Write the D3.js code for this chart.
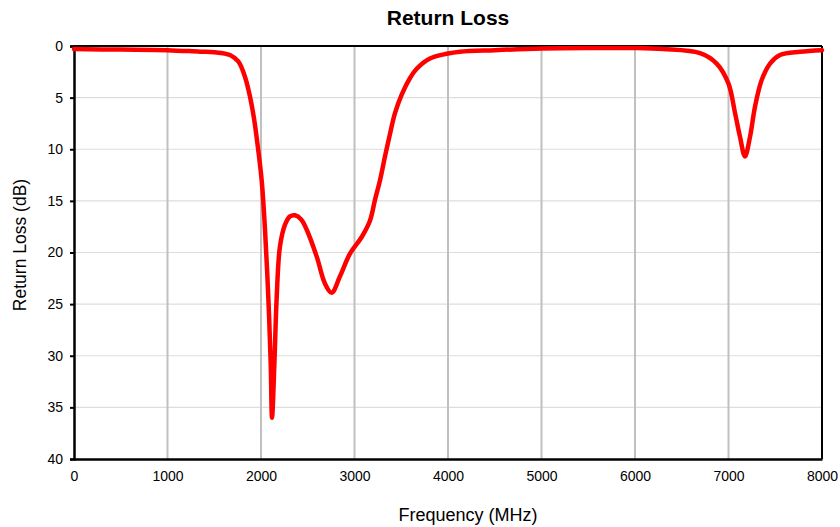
<!DOCTYPE html>
<html><head><meta charset="utf-8">
<script src="https://cdn.jsdelivr.net/npm/d3@7/dist/d3.min.js"></script>
<style>body{margin:0;background:#fff}svg{display:block;font-family:"Liberation Sans",Arial,sans-serif}</style>
</head><body>
<svg id="c" width="840" height="527"></svg>
<script>
const freq = [0,500,1000,1348,1500,1668,1757,1829,1882,1925,1954,2007,2043,2078,2104,2118,2143,2168,2203,2257,2310,2364,2430,2489,2596,2684,2756,2845,2952,3077,3166,3219,3273,3326,3380,3433,3505,3594,3665,3807,3986,4128,4500,5000,5500,6000,6300,6695,6873,6998,7070,7123,7176,7230,7283,7355,7444,7551,7765,8000];
const loss = [0.3,0.35,0.4,0.55,0.6,0.87,1.5,3.0,4.9,7.0,8.9,13.0,17.8,24.3,30.8,36,30.8,24.3,19.4,17.3,16.5,16.4,16.8,17.8,20.4,23,23.9,22.3,20.1,18.5,16.9,14.9,13.0,10.7,8.5,6.5,4.7,3.1,2.2,1.2,0.75,0.55,0.4,0.25,0.2,0.2,0.3,0.7,1.7,3.6,6.5,8.8,10.7,8.8,5.9,3.3,1.7,0.87,0.55,0.4];
const xTicks = [0,1000,2000,3000,4000,5000,6000,7000,8000];
const yTicks = [0,5,10,15,20,25,30,35,40];

const svg = d3.select("#c");
const L=74,R=822,T=46,B=459;
const x = d3.scaleLinear().domain([0,8000]).range([L,R]);
const y = d3.scaleLinear().domain([0,40]).range([T,B]);

svg.append("g").selectAll("line").data(yTicks.slice(1,-1)).join("line")
  .attr("x1",L).attr("x2",R).attr("y1",d=>y(d)).attr("y2",d=>y(d))
  .attr("stroke","#dddddd").attr("stroke-width",1.2);
svg.append("g").selectAll("line").data(xTicks.slice(1,-1)).join("line")
  .attr("y1",T).attr("y2",B).attr("x1",d=>x(d)).attr("x2",d=>x(d))
  .attr("stroke","#c0c0c0").attr("stroke-width",2);

svg.append("line").attr("x1",L).attr("x2",R).attr("y1",T).attr("y2",T).attr("stroke","#000").attr("stroke-width",2);
svg.append("line").attr("x1",R).attr("x2",R).attr("y1",T).attr("y2",B).attr("stroke","#000").attr("stroke-width",2);

const ya = svg.append("g").attr("transform",`translate(${L},0)`)
  .call(d3.axisLeft(y).tickValues(yTicks).tickSize(4).tickPadding(7).tickFormat(d3.format("d")));
ya.select(".domain").attr("stroke","#000").attr("stroke-width",2.5);
ya.selectAll(".tick line").attr("stroke","#000").attr("stroke-width",2);
ya.selectAll("text").attr("font-size",14).attr("fill","#000").attr("font-family","Liberation Sans, Arial, sans-serif");

const xa = svg.append("g").attr("transform",`translate(0,${B})`)
  .call(d3.axisBottom(x).tickValues(xTicks).tickSize(0).tickPadding(12).tickFormat(d3.format("d")));
xa.select(".domain").attr("stroke","#000").attr("stroke-width",2.5);
xa.selectAll("text").attr("font-size",14).attr("fill","#000").attr("font-family","Liberation Sans, Arial, sans-serif");

const line = d3.line().x((d,i)=>x(freq[i])).y(d=>y(d)).curve(d3.curveCatmullRom.alpha(0.5));
svg.append("path").datum(loss).attr("d",line).attr("fill","none")
  .attr("stroke","#ff0000").attr("stroke-width",4.5).attr("stroke-linejoin","round").attr("stroke-linecap","round");

svg.append("text").attr("x",448).attr("y",25).attr("text-anchor","middle")
  .attr("font-size",21).attr("font-weight","bold").text("Return Loss");
svg.append("text").attr("x",468).attr("y",521).attr("text-anchor","middle")
  .attr("font-size",18).text("Frequency (MHz)");
svg.append("text").attr("transform","translate(26,245) rotate(-90)").attr("text-anchor","middle")
  .attr("font-size",17.5).text("Return Loss (dB)");
</script>
</body></html>
